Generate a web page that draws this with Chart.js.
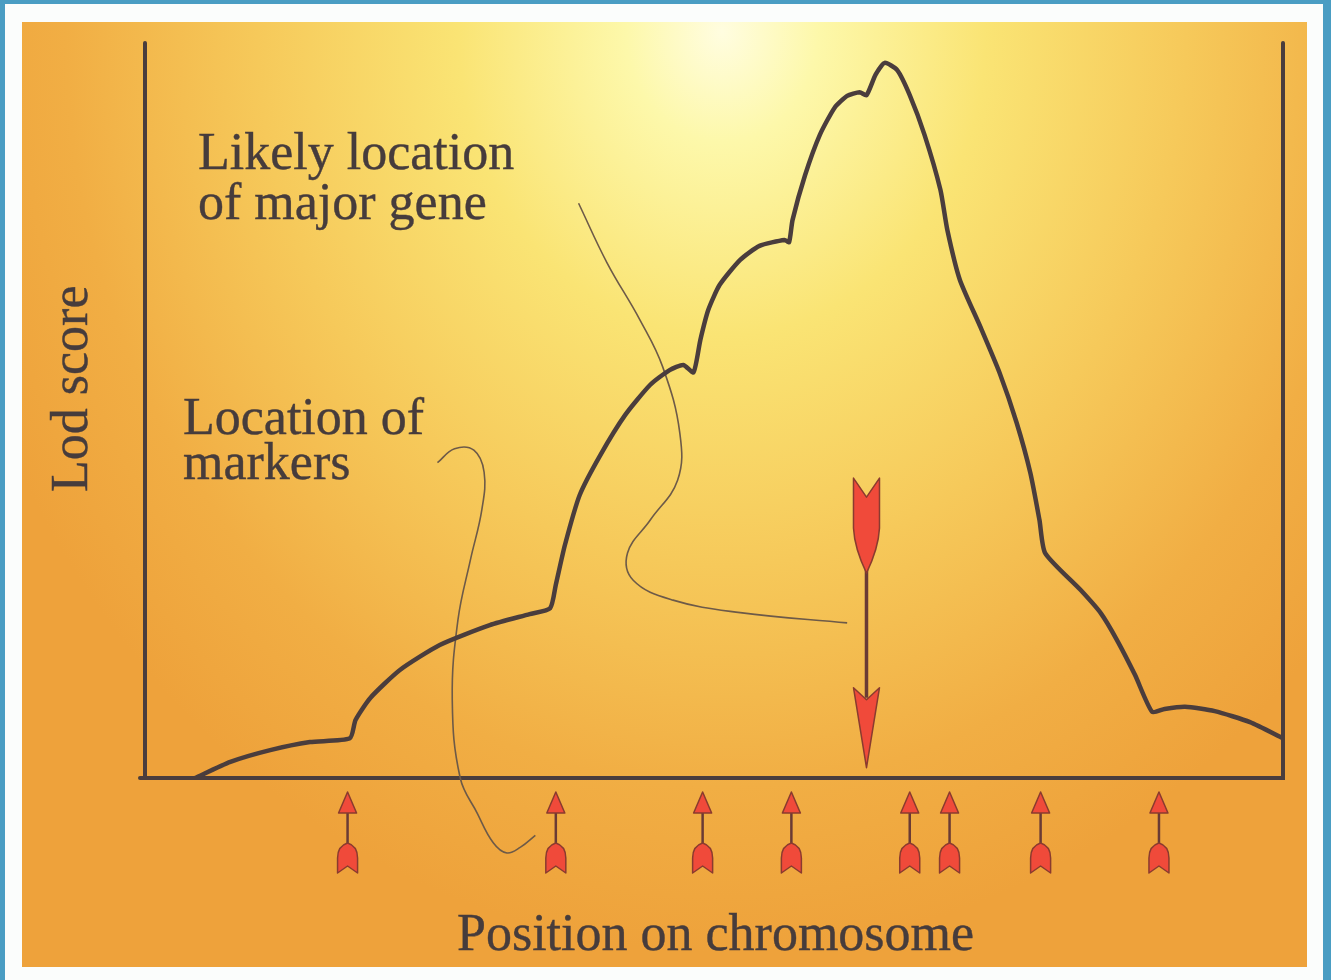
<!DOCTYPE html>
<html>
<head>
<meta charset="utf-8">
<script src="https://cdn.jsdelivr.net/npm/chart.js@4.4.1/dist/chart.umd.min.js"></script>
<style>
  html, body { margin: 0; padding: 0; }
  body {
    width: 1331px; height: 980px; overflow: hidden; position: relative;
    background: #4a9dc3;
    font-family: "Liberation Serif", "Times New Roman", serif;
  }
  #paper { position: absolute; left: 5px; top: 4px; width: 1318px; height: 990px; background: #fbfdfc; }
  #panel {
    position: absolute; left: 22px; top: 22px; width: 1285px; height: 945px;
    background: radial-gradient(ellipse 800px 920px at 700px 10px,
      #fffde0 0%, #fdf8aa 12%, #fae474 33%, #f6c95a 58%, #f1ae44 82%, #eea23b 100%);
  }
  #chart { position: absolute; left: 0; top: 0; }
  .lbl {
    position: absolute; color: #463c3c; font-size: 52px; line-height: 1; white-space: nowrap;
    -webkit-text-stroke: 0.4px #463c3c;
  }
  #ytitle { transform: rotate(-90deg); transform-origin: 0 0; }
</style>
</head>
<body>
<div id="paper"></div>
<div id="panel"></div>
<canvas id="chart" width="1331" height="980"></canvas>

<div class="lbl" style="left:198px; top:126px;">Likely location</div>
<div class="lbl" style="left:198px; top:176px;">of major gene</div>
<div class="lbl" style="left:183px; top:391px;">Location of</div>
<div class="lbl" style="left:183px; top:436px;">markers</div>
<div class="lbl" style="left:457px; top:907px;">Position on chromosome</div>
<div class="lbl" id="ytitle" style="left:44px; top:492px;">Lod score</div>

<script>
// position on chromosome (0-100) and lod score (0-100)
const positions = [4.4, 7.5, 11.0, 14.5, 18.0,
  18.5, 19.8, 22.4, 25.9, 30.3, 33.8, 35.6,
  36.1, 36.9, 38.2, 40.0, 42.2, 44.4, 46.1, 47.3, 48.2,
  48.8, 49.5, 50.5, 52.3, 54.0, 56.2, 56.6,
  56.9, 58.0, 59.3, 60.6, 61.7, 62.8, 63.4,
  64.2, 65.0, 66.1, 67.2, 68.5, 69.9, 70.5, 71.6, 73.4, 75.1, 76.6, 77.8, 78.6, 79.1,
  82.2, 84.0, 85.4, 87.0, 88.5,
  89.6, 91.4, 94.0, 97.1, 100];
const lodScores = [0, 2.2, 3.8, 4.9, 5.4,
  7.9, 10.9, 14.7, 18.1, 20.8, 22.3, 23.1,
  26.3, 31.7, 38.5, 43.9, 49.4, 53.5, 55.5, 56.2, 55.2,
  59.6, 63.7, 67.1, 70.5, 72.4, 73.2, 72.9,
  75.9, 82.0, 87.5, 91.2, 92.8, 93.3, 92.9,
  95.7, 97.3, 96.3, 92.9, 87.5, 80.0, 74.6, 67.8, 61.4, 55.1, 48.3, 41.5, 35.1, 30.6,
  25.6, 22.4, 18.8, 14.0, 9.0,
  9.4, 9.7, 9.1, 7.6, 5.4];

// marker positions along the chromosome
const markerPositions = [17.8, 36.1, 49.0, 56.8, 67.2, 70.7, 78.7, 89.1];

// likely location of the major gene (down arrow)
const majorGenePos = 63.4;
const majorGeneArrowTop = 40.8;
const majorGeneArrowTip = 1.4;

// leader line from "Likely location of major gene"
const geneLeaderX = [38.1, 40.6, 43.5, 45.5, 47.0, 46.8, 44.4, 42.4, 42.9, 46.4, 52.3, 61.7];
const geneLeaderY = [78.2, 70.1, 62.3, 55.9, 46.9, 40.5, 35.1, 30.6, 26.9, 24.2, 22.5, 21.1];

// leader line from "Location of markers"
const markerLeaderX = [25.7, 27.2, 28.9, 29.8, 29.6, 28.6, 27.5, 27.0, 27.7, 29.2, 30.6, 31.8, 33.0, 34.3];
const markerLeaderY = [42.9, 44.8, 44.6, 41.6, 36.5, 29.7, 21.5, 10.6, 0, -4.8, -8.8, -10.2, -9.4, -7.8];

const INK = "#4a3d3d";
const RED = "#f04a3a";
const RED_EDGE = "#8a3b2f";

const toPoints = (xs, ys) => xs.map((x, i) => ({ x, y: ys[i] }));

function smallArrow(ctx, x, axisY) {
  ctx.save();
  ctx.strokeStyle = "#6a3b35";
  ctx.lineWidth = 2.5;
  ctx.beginPath();
  ctx.moveTo(x, axisY + 33);
  ctx.lineTo(x, axisY + 70);
  ctx.stroke();

  ctx.fillStyle = RED;
  ctx.strokeStyle = RED_EDGE;
  ctx.lineWidth = 1.5;
  ctx.lineJoin = "round";
  // head
  ctx.beginPath();
  ctx.moveTo(x, axisY + 14);
  ctx.lineTo(x + 9, axisY + 35);
  ctx.lineTo(x - 9, axisY + 35);
  ctx.closePath();
  ctx.fill();
  ctx.stroke();
  // fletching
  ctx.beginPath();
  ctx.moveTo(x, axisY + 65);
  ctx.quadraticCurveTo(x + 10, axisY + 68, x + 10, axisY + 80);
  ctx.lineTo(x + 10, axisY + 95);
  ctx.lineTo(x, axisY + 88);
  ctx.lineTo(x - 10, axisY + 95);
  ctx.lineTo(x - 10, axisY + 80);
  ctx.quadraticCurveTo(x - 10, axisY + 68, x, axisY + 65);
  ctx.closePath();
  ctx.fill();
  ctx.stroke();
  ctx.restore();
}

function bigArrow(ctx, x, top, tip) {
  ctx.save();
  ctx.strokeStyle = "#6a3b35";
  ctx.lineWidth = 3.5;
  ctx.beginPath();
  ctx.moveTo(x, top + 90);
  ctx.lineTo(x, tip - 70);
  ctx.stroke();

  ctx.fillStyle = RED;
  ctx.strokeStyle = RED_EDGE;
  ctx.lineWidth = 1.5;
  ctx.lineJoin = "round";
  // fletching
  ctx.beginPath();
  ctx.moveTo(x - 13, top);
  ctx.lineTo(x, top + 19);
  ctx.lineTo(x + 13, top);
  ctx.lineTo(x + 13, top + 50);
  ctx.quadraticCurveTo(x + 12, top + 70, x, top + 95);
  ctx.quadraticCurveTo(x - 12, top + 70, x - 13, top + 50);
  ctx.closePath();
  ctx.fill();
  ctx.stroke();
  // head
  ctx.beginPath();
  ctx.moveTo(x - 13, tip - 80);
  ctx.lineTo(x, tip - 68);
  ctx.lineTo(x + 13, tip - 80);
  ctx.lineTo(x, tip);
  ctx.closePath();
  ctx.fill();
  ctx.stroke();
  ctx.restore();
}

const framePlugin = {
  id: "frame",
  beforeDatasetsDraw(chart) {
    const { ctx, chartArea: a } = chart;
    ctx.save();
    ctx.strokeStyle = INK;
    ctx.lineWidth = 4;
    ctx.lineCap = "round";
    ctx.beginPath();
    ctx.moveTo(a.left, a.top);
    ctx.lineTo(a.left, a.bottom);
    ctx.moveTo(a.left - 5, a.bottom);
    ctx.lineTo(a.right, a.bottom);
    ctx.lineTo(a.right, a.top);
    ctx.stroke();
    ctx.restore();
  },
  afterDatasetsDraw(chart) {
    const { ctx, chartArea: a, scales } = chart;
    markerPositions.forEach((p) => smallArrow(ctx, scales.x.getPixelForValue(p), a.bottom));
    bigArrow(
      ctx,
      scales.x.getPixelForValue(majorGenePos),
      scales.y.getPixelForValue(majorGeneArrowTop),
      scales.y.getPixelForValue(majorGeneArrowTip)
    );
  },
};

new Chart(document.getElementById("chart"), {
  type: "scatter",
  data: {
    datasets: [
      {
        label: "Lod score",
        data: toPoints(positions, lodScores),
        showLine: true,
        borderColor: INK,
        borderWidth: 4.5,
        pointRadius: 0,
        tension: 0.2,
        borderCapStyle: "round",
        borderJoinStyle: "round",
      },
      {
        label: "gene leader",
        data: toPoints(geneLeaderX, geneLeaderY),
        showLine: true,
        borderColor: "#6d5a48",
        borderWidth: 1.6,
        pointRadius: 0,
        tension: 0.4,
        clip: false,
      },
      {
        label: "marker leader",
        data: toPoints(markerLeaderX, markerLeaderY),
        showLine: true,
        borderColor: "#6d5a48",
        borderWidth: 1.6,
        pointRadius: 0,
        tension: 0.4,
        clip: false,
      },
    ],
  },
  options: {
    responsive: false,
    animation: false,
    devicePixelRatio: 1,
    layout: { padding: { left: 145, top: 43, right: 48, bottom: 202 } },
    scales: {
      x: { type: "linear", min: 0, max: 100, display: false },
      y: { type: "linear", min: 0, max: 100, display: false },
    },
    plugins: { legend: { display: false }, tooltip: { enabled: false } },
  },
  plugins: [framePlugin],
});
</script>
</body>
</html>
